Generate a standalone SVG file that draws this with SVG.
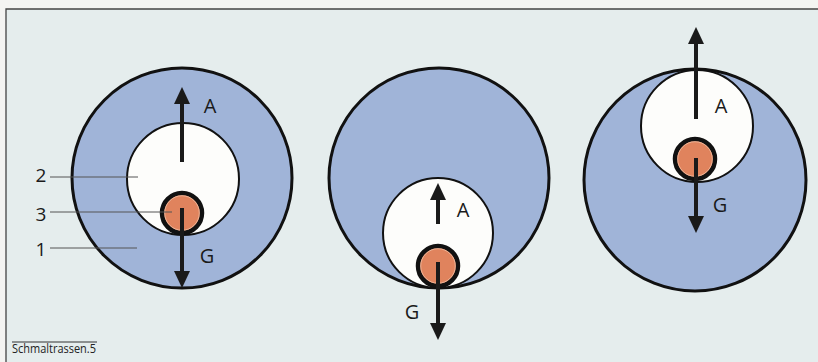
<svg xmlns="http://www.w3.org/2000/svg" width="818" height="362" viewBox="0 0 818 362">
<defs>
<style>
.outer{fill:#a0b4d8;stroke:#111;stroke-width:3}
.inner{fill:#fdfdfb;stroke:#111;stroke-width:2}
.core{fill:#e0835d;stroke:#111;stroke-width:4.5}
.ring{fill:none;stroke:#f2c2a6;stroke-width:0.8}
.arr{stroke:#1a1a1a;stroke-width:4;fill:none}
.lbl{font-family:"Open Sans","Liberation Sans",sans-serif;font-size:20px;fill:#1a1a1a;text-anchor:middle}
.num{font-family:"Open Sans","Liberation Sans",sans-serif;font-size:19px;fill:#1a1a1a;text-anchor:middle}
.lead{stroke:#555;stroke-width:1}
</style>
<marker id="ah" viewBox="0 0 17 16" refX="4" refY="8" markerWidth="17" markerHeight="16" markerUnits="userSpaceOnUse" orient="auto">
<path d="M0,0 L17,8 L0,16 Z" fill="#1a1a1a"/>
</marker>
</defs>
<rect x="0" y="0" width="818" height="362" fill="#f4f4f2"/>
<rect x="6" y="9" width="812" height="353" fill="#e5eded"/>
<path d="M6,362 V9 H818" fill="none" stroke="#444" stroke-width="1.3"/>

<g id="node-left">
<circle class="outer" cx="182" cy="178" r="110"/>
<circle class="inner" cx="183" cy="179" r="56"/>
<circle class="core" cx="182" cy="213" r="20"/>
<circle class="ring" cx="182" cy="213" r="17.3"/>
<text class="lbl" x="210" y="113">A</text>
<text class="lbl" x="207" y="263">G</text>
</g>

<g id="node-middle">
<circle class="outer" cx="439" cy="178" r="110"/>
<circle class="inner" cx="438" cy="233" r="55"/>
<circle class="core" cx="438" cy="266" r="20"/>
<circle class="ring" cx="438" cy="266" r="17.3"/>
<text class="lbl" x="463" y="217">A</text>
<text class="lbl" x="412" y="319">G</text>
</g>

<g id="node-right">
<circle class="outer" cx="695" cy="180" r="111"/>
<circle class="inner" cx="697" cy="126" r="56"/>
<circle class="core" cx="695" cy="159" r="20"/>
<circle class="ring" cx="695" cy="159" r="17.3"/>
<text class="lbl" x="721" y="113">A</text>
<text class="lbl" x="720" y="212">G</text>
</g>

<g id="labels">
<text class="num" x="41" y="182">2</text>
<text class="num" x="41" y="221">3</text>
<text class="num" x="41" y="256">1</text>
<line class="lead" x1="50" y1="177" x2="138" y2="177"/>
<line class="lead" x1="50" y1="212" x2="172" y2="212"/>
<line class="lead" x1="50" y1="248" x2="137" y2="248"/>
</g>

<g id="connectors">
<line class="arr" x1="182" y1="162" x2="182" y2="100" marker-end="url(#ah)"/>
<line class="arr" x1="182" y1="208" x2="182" y2="275" marker-end="url(#ah)"/>
<line class="arr" x1="438" y1="224" x2="438" y2="196" marker-end="url(#ah)"/>
<line class="arr" x1="438" y1="262" x2="438" y2="327" marker-end="url(#ah)"/>
<line class="arr" x1="696" y1="119" x2="696" y2="40" marker-end="url(#ah)"/>
<line class="arr" x1="696" y1="158" x2="696" y2="220" marker-end="url(#ah)"/>
</g>

<g id="caption">
<line x1="12" y1="342" x2="97" y2="342" stroke="#333" stroke-width="1"/>
<text x="12" y="353" font-family="'Open Sans','Liberation Sans',sans-serif" font-size="12" fill="#222" textLength="84" lengthAdjust="spacingAndGlyphs">Schmaltrassen.5</text>
</g>
</svg>
